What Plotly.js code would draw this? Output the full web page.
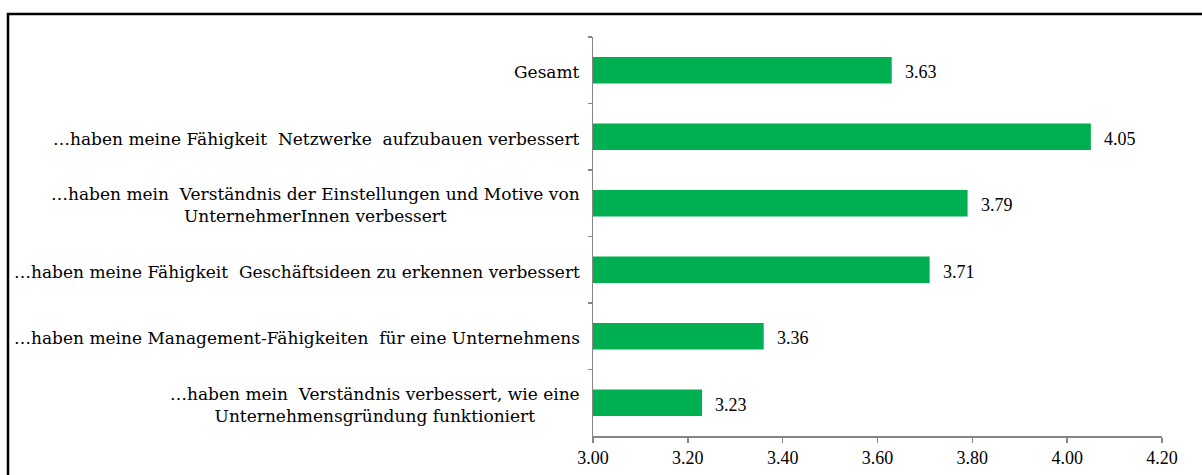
<!DOCTYPE html>
<html>
<head>
<meta charset="utf-8">
<script src="https://cdn.plot.ly/plotly-3.0.1.min.js"></script>
<style>
html,body{margin:0;padding:0;background:#fff;}
#chart{width:1202px;height:475px;}
</style>
</head>
<body>
<div id="chart"></div>
<script>
const categories = [
  "Gesamt",
  "…haben meine Fähigkeit  Netzwerke  aufzubauen verbessert",
  "…haben mein  Verständnis der Einstellungen und Motive von<br>UnternehmerInnen verbessert",
  "…haben meine Fähigkeit  Geschäftsideen zu erkennen verbessert",
  "…haben meine Management-Fähigkeiten  für eine Unternehmens",
  "…haben mein  Verständnis verbessert, wie eine<br>Unternehmensgründung funktioniert"
];
const values = [3.63, 4.05, 3.79, 3.71, 3.36, 3.23];
const xTicks = [3.0, 3.2, 3.4, 3.6, 3.8, 4.0, 4.2];
const xTickLabels = ["3.00", "3.20", "3.40", "3.60", "3.80", "4.00", "4.20"];

const W = 1202, H = 475;
const M = {l: 593, r: 40, t: 37, b: 39};
const pw = W - M.l - M.r, ph = H - M.t - M.b;
const CAT_FONT = "DejaVu Serif";
const NUM_FONT = "Times New Roman";

const trace = {
  type: "bar",
  orientation: "h",
  y: categories,
  x: values,
  base: 0,
  width: 0.4,
  marker: {color: "#00B050", line: {width: 0}},
  hoverinfo: "none"
};

const annotations = [];
categories.forEach((c, i) => {
  annotations.push({
    xref: "paper", yref: "y", x: 0, y: c, xshift: -11, yshift: -2,
    xanchor: "right", yanchor: "middle", align: "center",
    text: c, showarrow: false,
    font: {family: CAT_FONT, size: 17, color: "#000"}
  });
});
values.forEach((v, i) => {
  annotations.push({
    xref: "x", yref: "y", x: v, y: categories[i], xshift: 11, yshift: -2,
    xanchor: "left", yanchor: "middle",
    text: v.toFixed(2), showarrow: false,
    font: {family: NUM_FONT, size: 18, color: "#000"}
  });
});

const layout = {
  width: W, height: H,
  margin: M,
  paper_bgcolor: "#fff", plot_bgcolor: "#fff",
  showlegend: false,
  font: {family: NUM_FONT, color: "#000"},
  xaxis: {
    range: [3.0, 4.2],
    tickvals: xTicks, ticktext: xTickLabels,
    ticks: "outside", ticklen: 5, tickwidth: 1.5, tickcolor: "#868686",
    showline: true, linecolor: "#868686", linewidth: 1.5,
    showgrid: false, zeroline: false,
    tickfont: {family: NUM_FONT, size: 18, color: "#000"},
    fixedrange: true
  },
  yaxis: {
    type: "category",
    autorange: "reversed",
    showticklabels: false,
    ticks: "outside", ticklen: 4, tickwidth: 1.5, tickcolor: "#868686",
    tickson: "boundaries",
    showline: true, linecolor: "#868686", linewidth: 1.5,
    showgrid: false, zeroline: false,
    fixedrange: true
  },
  annotations: annotations,
  shapes: [{
    type: "rect", xref: "paper", yref: "paper",
    x0: (8 - M.l) / pw, x1: 1.2,
    y0: -0.3, y1: (H - M.b - 14) / ph,
    line: {color: "#000", width: 2.5}, fillcolor: "rgba(0,0,0,0)"
  }]
};

Plotly.newPlot("chart", [trace], layout, {displayModeBar: false, staticPlot: true});
</script>
</body>
</html>
